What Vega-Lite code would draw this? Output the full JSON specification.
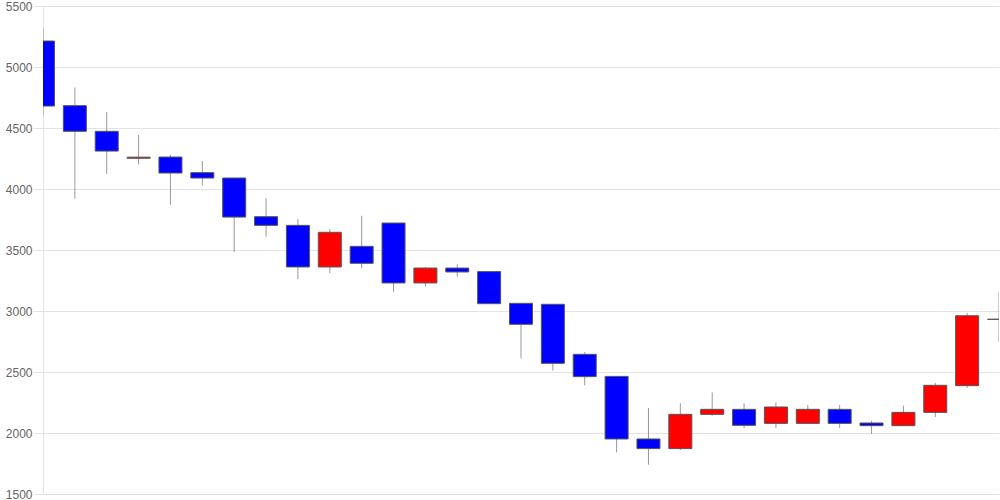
{
  "$schema": "https://vega.github.io/schema/vega-lite/v6.json",
  "width": 956,
  "height": 488,
  "autosize": {"type": "none"},
  "padding": {"left": 43, "top": 6, "right": 1, "bottom": 6},
  "config": {"view": {"stroke": null}, "font": "Liberation Sans"},
  "data": {
    "values": [
      {"i": 0, "open": 5213, "high": 5317, "low": 4607, "close": 4680},
      {"i": 1, "open": 4683, "high": 4831, "low": 3921, "close": 4473},
      {"i": 2, "open": 4473, "high": 4631, "low": 4123, "close": 4311},
      {"i": 3, "open": 4252, "high": 4443, "low": 4202, "close": 4261},
      {"i": 4, "open": 4262, "high": 4281, "low": 3871, "close": 4131},
      {"i": 5, "open": 4134, "high": 4230, "low": 4030, "close": 4090},
      {"i": 6, "open": 4090, "high": 4090, "low": 3484, "close": 3770},
      {"i": 7, "open": 3773, "high": 3924, "low": 3609, "close": 3702},
      {"i": 8, "open": 3702, "high": 3754, "low": 3260, "close": 3361},
      {"i": 9, "open": 3361, "high": 3672, "low": 3311, "close": 3645},
      {"i": 10, "open": 3530, "high": 3781, "low": 3350, "close": 3391},
      {"i": 11, "open": 3721, "high": 3721, "low": 3158, "close": 3230},
      {"i": 12, "open": 3230, "high": 3361, "low": 3199, "close": 3352},
      {"i": 13, "open": 3352, "high": 3383, "low": 3281, "close": 3320},
      {"i": 14, "open": 3323, "high": 3323, "low": 3060, "close": 3060},
      {"i": 15, "open": 3063, "high": 3063, "low": 2612, "close": 2891},
      {"i": 16, "open": 3055, "high": 3055, "low": 2511, "close": 2571},
      {"i": 17, "open": 2645, "high": 2664, "low": 2391, "close": 2462},
      {"i": 18, "open": 2464, "high": 2464, "low": 1841, "close": 1951},
      {"i": 19, "open": 1951, "high": 2205, "low": 1740, "close": 1872},
      {"i": 20, "open": 1872, "high": 2243, "low": 1861, "close": 2153},
      {"i": 21, "open": 2153, "high": 2333, "low": 2142, "close": 2194},
      {"i": 22, "open": 2194, "high": 2243, "low": 2041, "close": 2063},
      {"i": 23, "open": 2079, "high": 2252, "low": 2041, "close": 2213},
      {"i": 24, "open": 2079, "high": 2230, "low": 2079, "close": 2194},
      {"i": 25, "open": 2194, "high": 2230, "low": 2041, "close": 2079},
      {"i": 26, "open": 2082, "high": 2101, "low": 1992, "close": 2060},
      {"i": 27, "open": 2060, "high": 2224, "low": 2060, "close": 2169},
      {"i": 28, "open": 2169, "high": 2410, "low": 2131, "close": 2391},
      {"i": 29, "open": 2388, "high": 2984, "low": 2371, "close": 2961},
      {"i": 30, "open": 2932, "high": 3153, "low": 2748, "close": 2932}
    ]
  },
  "encoding": {
    "x": {
      "field": "i",
      "type": "quantitative",
      "scale": {"domain": [0, 30], "nice": false, "zero": false, "padding": 0},
      "axis": null
    }
  },
  "layer": [
    {
      "mark": {"type": "rule", "color": "#999999", "strokeWidth": 1, "clip": true},
      "encoding": {
        "y": {
          "field": "low",
          "type": "quantitative",
          "scale": {"domain": [1500, 5500], "nice": false, "zero": false, "padding": 0},
          "axis": {
            "values": [1500, 2000, 2500, 3000, 3500, 4000, 4500, 5000, 5500],
            "format": "d",
            "title": null,
            "grid": true,
            "gridColor": "#e3e3e3",
            "domainColor": "#e3e3e3",
            "tickColor": "#e3e3e3",
            "tickSize": 10,
            "labelPadding": 1,
            "labelColor": "#666666",
            "labelFontSize": 12,
            "labelFont": "Liberation Sans"
          }
        },
        "y2": {"field": "high"}
      }
    },
    {
      "mark": {"type": "bar", "size": 23, "stroke": "#555555", "strokeWidth": 1, "clip": true},
      "encoding": {
        "y": {"field": "open", "type": "quantitative"},
        "y2": {"field": "close"},
        "fill": {
          "condition": {"test": "datum.close > datum.open", "value": "#ff0000"},
          "value": "#0000ff"
        }
      }
    }
  ]
}
